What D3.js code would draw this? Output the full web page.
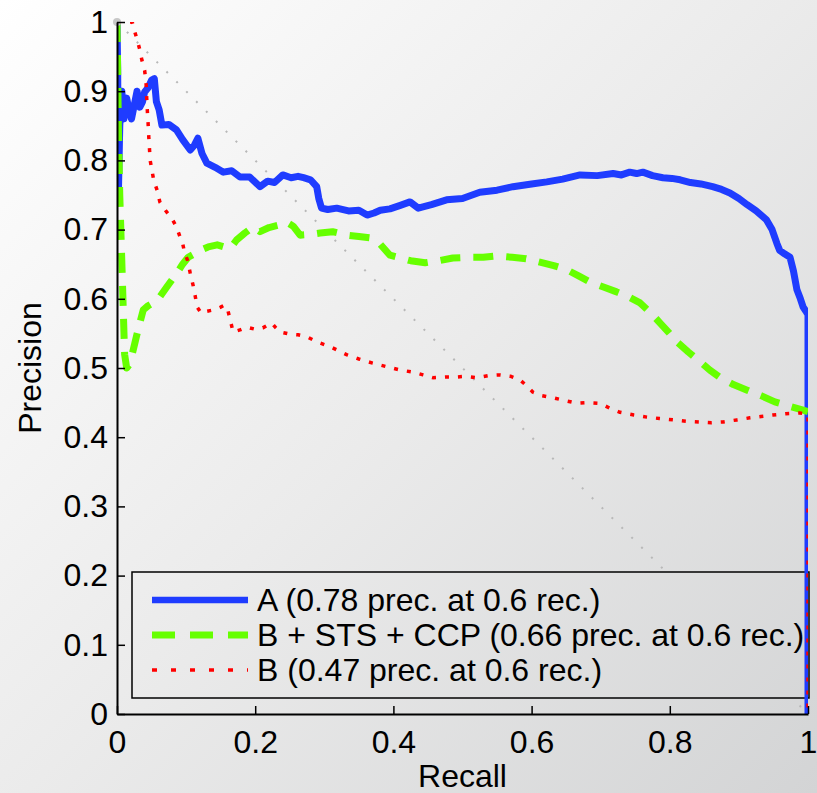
<!DOCTYPE html>
<html><head><meta charset="utf-8">
<script src="https://cdn.jsdelivr.net/npm/d3@7"></script>
<style>
html,body{margin:0;padding:0;background:#fff;}
svg{display:block;font-family:"Liberation Sans",Arial,sans-serif;}
</style></head>
<body>
<svg id="chart" width="817" height="793"></svg>
<script>
// ---------- data ----------
const seriesNames = ["A (0.78 prec. at 0.6 rec.)", "B + STS + CCP (0.66 prec. at 0.6 rec.)", "B (0.47 prec. at 0.6 rec.)"];

const blueRecall = [0,0.001,0.002,0.004,0.007,0.010,0.014,0.018,0.021,0.025,0.029,0.033,0.037,0.040,0.045,0.050,0.054,0.057,0.061,0.065,0.075,0.086,0.095,0.106,0.112,0.117,0.123,0.130,0.142,0.154,0.166,0.178,0.192,0.207,0.218,0.228,0.240,0.252,0.262,0.270,0.280,0.289,0.292,0.296,0.305,0.318,0.335,0.350,0.362,0.372,0.381,0.395,0.410,0.424,0.436,0.455,0.477,0.500,0.525,0.550,0.573,0.600,0.622,0.645,0.670,0.695,0.718,0.730,0.742,0.752,0.761,0.775,0.790,0.803,0.815,0.830,0.845,0.862,0.875,0.887,0.900,0.912,0.925,0.940,0.948,0.955,0.959,0.966,0.974,0.979,0.984,0.989,0.993,0.997,1.0,1.0];
const bluePrecision = [1.0,0.93,0.75,0.85,0.90,0.86,0.89,0.87,0.86,0.88,0.90,0.877,0.885,0.899,0.905,0.916,0.918,0.885,0.873,0.851,0.852,0.844,0.83,0.815,0.822,0.832,0.81,0.796,0.79,0.783,0.785,0.776,0.776,0.762,0.77,0.768,0.779,0.775,0.777,0.775,0.772,0.762,0.745,0.731,0.729,0.731,0.727,0.728,0.721,0.724,0.728,0.73,0.735,0.74,0.731,0.736,0.743,0.745,0.754,0.757,0.762,0.766,0.769,0.773,0.779,0.778,0.781,0.779,0.783,0.781,0.783,0.778,0.775,0.774,0.772,0.768,0.766,0.762,0.758,0.753,0.745,0.736,0.727,0.714,0.70,0.68,0.67,0.665,0.66,0.64,0.613,0.60,0.588,0.582,0.577,0.0];

const greenRecall = [0,0.002,0.004,0.008,0.011,0.014,0.018,0.022,0.028,0.033,0.038,0.045,0.052,0.060,0.072,0.080,0.088,0.095,0.103,0.112,0.120,0.132,0.145,0.155,0.164,0.173,0.185,0.197,0.207,0.220,0.236,0.245,0.255,0.265,0.280,0.294,0.312,0.333,0.350,0.366,0.380,0.395,0.41,0.425,0.446,0.465,0.486,0.51,0.53,0.55,0.572,0.592,0.612,0.632,0.651,0.668,0.685,0.704,0.723,0.74,0.757,0.772,0.786,0.798,0.81,0.827,0.844,0.858,0.873,0.892,0.912,0.932,0.952,0.972,0.993,1.0];
const greenPrecision = [1.0,0.85,0.75,0.62,0.52,0.50,0.505,0.52,0.545,0.565,0.584,0.59,0.594,0.60,0.617,0.628,0.639,0.65,0.66,0.665,0.67,0.675,0.678,0.675,0.673,0.685,0.695,0.704,0.697,0.703,0.707,0.711,0.705,0.692,0.693,0.695,0.697,0.692,0.69,0.688,0.68,0.663,0.659,0.655,0.652,0.655,0.659,0.66,0.66,0.662,0.66,0.658,0.653,0.648,0.642,0.633,0.624,0.617,0.61,0.603,0.594,0.58,0.565,0.552,0.538,0.523,0.509,0.497,0.486,0.476,0.468,0.46,0.451,0.445,0.439,0.437];

const redRecall = [0.0,0.022,0.026,0.029,0.033,0.036,0.04,0.042,0.043,0.044,0.045,0.046,0.048,0.053,0.058,0.062,0.07,0.08,0.086,0.091,0.095,0.098,0.102,0.106,0.11,0.113,0.116,0.122,0.13,0.14,0.15,0.156,0.16,0.164,0.168,0.178,0.188,0.2,0.211,0.218,0.224,0.23,0.236,0.25,0.262,0.275,0.285,0.294,0.31,0.333,0.35,0.37,0.39,0.41,0.429,0.443,0.457,0.475,0.492,0.505,0.521,0.537,0.554,0.57,0.583,0.592,0.602,0.615,0.631,0.648,0.666,0.683,0.699,0.713,0.728,0.748,0.767,0.785,0.805,0.825,0.844,0.86,0.877,0.897,0.916,0.932,0.949,0.968,0.988,1.0,1.0];
const redPrecision = [1.0,1.0,0.985,0.975,0.96,0.945,0.93,0.913,0.89,0.87,0.854,0.834,0.80,0.772,0.757,0.74,0.728,0.715,0.704,0.69,0.68,0.666,0.656,0.637,0.62,0.605,0.588,0.579,0.582,0.584,0.588,0.591,0.585,0.569,0.552,0.555,0.559,0.556,0.558,0.562,0.565,0.558,0.552,0.549,0.548,0.545,0.54,0.536,0.53,0.519,0.513,0.507,0.502,0.497,0.494,0.49,0.486,0.487,0.487,0.488,0.486,0.489,0.49,0.488,0.483,0.475,0.465,0.46,0.457,0.453,0.449,0.45,0.449,0.442,0.436,0.432,0.429,0.427,0.425,0.423,0.422,0.421,0.422,0.425,0.428,0.43,0.432,0.434,0.435,0.433,0.0];

const breakEvenRecall = [0, 1];
const breakEvenPrecision = [1, 0];

const xTicks = [0, 0.2, 0.4, 0.6, 0.8, 1];
const xTickLabels = ["0", "0.2", "0.4", "0.6", "0.8", "1"];
const yTicks = [0, 0.1, 0.2, 0.3, 0.4, 0.5, 0.6, 0.7, 0.8, 0.9, 1];
const yTickLabels = ["0", "0.1", "0.2", "0.3", "0.4", "0.5", "0.6", "0.7", "0.8", "0.9", "1"];
const xLabel = "Recall";
const yLabel = "Precision";

// ---------- layout ----------
const W = 817, H = 793;
const X0 = 117, X1 = 808, Y0 = 714, Y1 = 22;
const svg = d3.select("#chart");
const defs = svg.append("defs");

const grad = defs.append("linearGradient").attr("id", "bg")
  .attr("gradientUnits", "userSpaceOnUse")
  .attr("x1", 0).attr("y1", 0).attr("x2", W).attr("y2", H);
grad.append("stop").attr("offset", 0).attr("stop-color", "#ffffff");
grad.append("stop").attr("offset", 0.5).attr("stop-color", "#ebebeb");
grad.append("stop").attr("offset", 1).attr("stop-color", "#d3d4d5");

svg.append("rect").attr("width", W).attr("height", H).attr("fill", "url(#bg)");

const x = d3.scaleLinear().domain([0, 1]).range([X0, X1]);
const y = d3.scaleLinear().domain([0, 1]).range([Y0, Y1]);

defs.append("clipPath").attr("id", "plotclip").append("rect")
  .attr("x", X0).attr("y", Y1).attr("width", X1 - X0).attr("height", Y0 - Y1);

const line = d3.line().x(d => x(d[0])).y(d => y(d[1]));
const zip = (a, b) => a.map((v, i) => [v, b[i]]);

// break-even diagonal
svg.append("path")
  .attr("d", line(zip(breakEvenRecall, breakEvenPrecision)))
  .attr("fill", "none").attr("stroke", "#b8b8b8").attr("stroke-width", 2)
  .attr("stroke-dasharray", "2,12").attr("clip-path", "url(#plotclip)");

// legend box (covers diagonal)
const LG = {x: 132, y: 572, w: 677, h: 126};
svg.append("rect").attr("x", LG.x).attr("y", LG.y).attr("width", LG.w).attr("height", LG.h)
  .attr("fill", "url(#bg)").attr("stroke", "#000").attr("stroke-width", 1.5);

const styles = [
  {color: "#1f3cff", width: 7, dash: null, legendDash: null, legendWidth: 6.5},
  {color: "#66ff00", width: 7, dash: "20,13", legendDash: "23,15", legendWidth: 7},
  {color: "#ff0000", width: 3.5, dash: "4,9", legendDash: "5,14", legendWidth: 3.5}
];
const series = [
  zip(blueRecall, bluePrecision),
  zip(greenRecall, greenPrecision),
  zip(redRecall, redPrecision)
];

const plotG = svg.append("g").attr("clip-path", "url(#plotclip)");
series.forEach((s, i) => {
  plotG.append("path").attr("d", line(s))
    .attr("fill", "none").attr("stroke", styles[i].color)
    .attr("stroke-width", styles[i].width)
    .attr("stroke-linejoin", "round")
    .attr("stroke-dasharray", styles[i].dash);
});

// marker at (0,1)
svg.append("circle").attr("cx", x(0)).attr("cy", y(1)).attr("r", 4).attr("fill", "#c8c8c8");

// axes
const fontSize = 32;
const yAxis = d3.axisLeft(y).tickValues(yTicks).tickFormat((d, i) => yTickLabels[i])
  .tickSizeInner(-8).tickSizeOuter(0).tickPadding(9);
const xAxis = d3.axisBottom(x).tickValues(xTicks).tickFormat((d, i) => xTickLabels[i])
  .tickSizeInner(-8).tickSizeOuter(0).tickPadding(16);

const gy = svg.append("g").attr("transform", `translate(${X0},0)`).call(yAxis);
const gx = svg.append("g").attr("transform", `translate(0,${Y0})`).call(xAxis);
[gx, gy].forEach(g => {
  g.select(".domain").attr("stroke", "#000").attr("stroke-width", 2);
  g.selectAll(".tick line").attr("stroke", "#000").attr("stroke-width", 1.5);
  g.selectAll(".tick text").attr("fill", "#000").attr("font-size", fontSize)
    .attr("font-family", "Liberation Sans, Arial, sans-serif");
});

svg.append("text").attr("x", (X0 + X1) / 2).attr("y", 787)
  .attr("text-anchor", "middle").attr("font-size", fontSize).text(xLabel);
svg.append("text").attr("transform", `translate(41,${(Y0 + Y1) / 2}) rotate(-90)`)
  .attr("text-anchor", "middle").attr("font-size", fontSize).text(yLabel);

// legend contents
const rowY = [600, 635, 670];
seriesNames.forEach((name, i) => {
  svg.append("line").attr("x1", 152).attr("x2", 248).attr("y1", rowY[i]).attr("y2", rowY[i])
    .attr("stroke", styles[i].color).attr("stroke-width", styles[i].legendWidth)
    .attr("stroke-dasharray", styles[i].legendDash);
  svg.append("text").attr("x", 257).attr("y", rowY[i] + 11)
    .attr("font-size", fontSize).attr("fill", "#000").text(name);
});
</script>
</body></html>
